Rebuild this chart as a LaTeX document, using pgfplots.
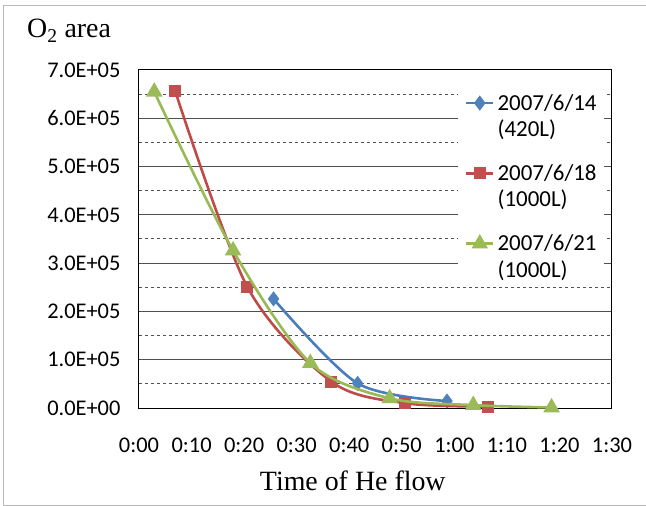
\documentclass[border=0pt]{standalone}
\usepackage{fontspec}
\setmainfont{Carlito}
\newfontfamily\serif{Liberation Serif}
\usepackage{pgfplots}
\pgfplotsset{compat=1.18}
\definecolor{cblue}{HTML}{4A7EBB}
\definecolor{cred}{HTML}{BE4B48}
\definecolor{cgreen}{HTML}{98B954}
\definecolor{fblue}{HTML}{4F81BD}
\definecolor{fred}{HTML}{C0504D}
\definecolor{fgreen}{HTML}{9BBB59}
\definecolor{gridgray}{RGB}{80,80,80}
\newcommand{\twoline}[2]{\begin{tabular}[t]{@{}l@{}}#1\\#2\end{tabular}}
\begin{document}
\begin{tikzpicture}
\begin{axis}[
  at={(0,0)}, anchor=south west,
  scale only axis, width=473bp, height=338bp,
  xmin=0, xmax=90, ymin=0, ymax=700000,
  xtick={0,10,20,30,40,50,60,70,80,90},
  xticklabels={0:00,0:10,0:20,0:30,0:40,0:50,1:00,1:10,1:20,1:30},
  ytick={0,100000,200000,300000,400000,500000,600000,700000},
  yticklabels={0.0E+00,1.0E+05,2.0E+05,3.0E+05,4.0E+05,5.0E+05,6.0E+05,7.0E+05},
  minor ytick={50000,150000,250000,350000,450000,550000,650000},
  scaled y ticks=false,
  major tick length=0pt, minor tick length=0pt,
  ymajorgrids, yminorgrids,
  major grid style={solid, line width=1bp, color=gridgray},
  minor grid style={dash pattern=on 3bp off 3bp, line width=1bp, color=gridgray},
  axis line style={line width=1bp, black},
  tick label style={font=\fontsize{22.5}{27}\selectfont},
  xticklabel style={yshift=-26bp},
  yticklabel style={xshift=-15bp},
  xlabel={Time of He flow},
  xlabel style={at={(axis description cs:0.452,-0.2426)}, anchor=base, inner sep=0pt, font=\serif\fontsize{28}{32}\selectfont},
  ylabel={O\textsubscript{2} area},
  ylabel style={rotate=-90, at={(axis description cs:-0.2368,1.0947)}, anchor=base west, inner sep=0pt, font=\serif\fontsize{28}{32}\selectfont},
  clip mode=individual,
  legend style={at={(rel axis cs:0.674,0.9367)}, anchor=north west, draw=none, fill=white,
    font=\fontsize{23}{26.5}\selectfont, inner xsep=7bp, inner ysep=0bp,
    row sep=17.5bp, column sep=3bp, nodes={inner sep=0pt, text depth=}, cells={anchor=base west}},
  legend image code/.code={\draw[mark repeat=2,mark phase=2,yshift=7bp] plot coordinates {(0bp,0bp) (13.5bp,0bp) (27bp,0bp)};},
]
\addplot[cblue, line width=2.6bp, smooth, mark=diamond*, mark size=5.5bp, mark options={solid, fill=fblue, draw=fblue}]
  coordinates {(25.6,226000) (41.6,51000) (58.6,14500)};
\addlegendentry{\twoline{2007/6/14}{(420L)}}
\addplot[cred, line width=2.6bp, smooth, mark=square*, mark size=4.7bp, mark options={solid, fill=fred, draw=fred}]
  coordinates {(6.9,656000) (20.6,251000) (36.6,54500) (50.6,10000) (66.5,3000)};
\addlegendentry{\twoline{2007/6/18}{(1000L)}}
\addplot[cgreen, line width=2.6bp, smooth, mark=triangle*, mark size=7bp, mark options={solid, fill=fgreen, draw=fgreen}]
  coordinates {(2.9,655000) (17.9,326000) (32.6,93000) (47.7,20000) (63.6,6000) (78.5,1000)};
\addlegendentry{\twoline{2007/6/21}{(1000L)}}
\end{axis}
\draw[gray!55, line width=1bp] (507bp,402bp) -- (-135bp,402bp) -- (-135bp,-97bp) -- (507bp,-97bp);
\pgfresetboundingbox
\path[use as bounding box] (-139bp,-98bp) rectangle (507bp,408bp);
\end{tikzpicture}
\end{document}
